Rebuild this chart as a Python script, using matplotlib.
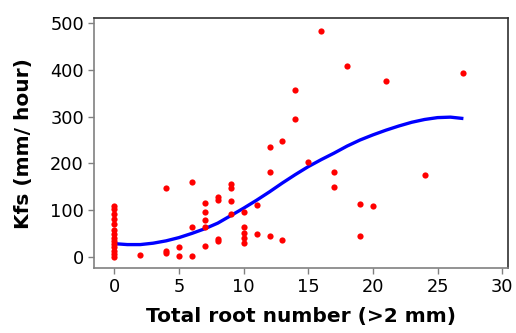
import matplotlib
matplotlib.use("Agg")
import matplotlib.pyplot as plt

# =====================================================
# DATA
# =====================================================

root_number = [
    0, 0, 0, 0, 0, 0, 0, 0, 0, 0, 0, 0, 0, 0,
    2,
    4, 4, 4,
    5, 5,
    6, 6, 6,
    7, 7, 7, 7, 7,
    8, 8, 8, 8,
    9, 9, 9, 9,
    10, 10, 10, 10, 10,
    11, 11,
    12, 12, 12,
    13, 13,
    14, 14,
    15,
    16,
    17, 17,
    18,
    19, 19,
    20,
    21,
    24,
    27,
]

kfs = [
    108, 102, 91, 80, 70, 57, 48, 40, 33, 27, 20, 12, 5, 0,
    3,
    148, 12, 8,
    20, 1,
    159, 63, 1,
    116, 96, 78, 63, 23,
    127, 121, 38, 34,
    155, 148, 119, 91,
    95, 64, 51, 41, 30,
    110, 49,
    234, 182, 44,
    248, 35,
    358, 295,
    202,
    483,
    182, 149,
    408,
    113, 44,
    109,
    376,
    176,
    394,
]

# fitted curve
fit_x = [0, 1, 2, 3, 4, 5, 6, 7, 8, 9, 10, 11, 12, 13, 14,
         15, 16, 17, 18, 19, 20, 21, 22, 23, 24, 25, 26, 27]
fit_y = [28, 26, 26, 29, 34, 41, 50, 60, 72, 88, 104, 121, 139, 158, 176,
         193, 208, 222, 237, 250, 261, 271, 280, 288, 294, 298, 299, 296]

x_ticks = [0, 5, 10, 15, 20, 25, 30]
y_ticks = [0, 100, 200, 300, 400, 500]

# =====================================================
# PLOT
# =====================================================

fig = plt.figure(figsize=(5.16, 3.33), dpi=100)
ax = fig.add_axes([0.1816, 0.1943, 0.8029, 0.7507])

ax.scatter(root_number, kfs, s=20, color="#ff0000", zorder=3, linewidths=0)
ax.plot(fit_x, fit_y, color="#0000ff", linewidth=2.4, zorder=2,
        solid_capstyle="butt")

ax.set_xlim(-1.6, 30.45)
ax.set_ylim(-24.8, 510.7)
ax.set_xticks(x_ticks)
ax.set_yticks(y_ticks)

ax.tick_params(axis="both", direction="out", length=4, width=1,
               color="#808080", labelsize=12.8, pad=3)

for side in ["left", "bottom"]:
    ax.spines[side].set_color("#808080")
for side in ["top", "right"]:
    ax.spines[side].set_color("#303030")
for side in ax.spines:
    ax.spines[side].set_linewidth(1.2)

ax.set_xlabel("Total root number (>2 mm)", fontsize=14.5,
              fontweight="bold", labelpad=8)
ax.set_ylabel("Kfs (mm/ hour)", fontsize=14.5, fontweight="bold",
              labelpad=12)

fig.savefig("out.png", dpi=100)
